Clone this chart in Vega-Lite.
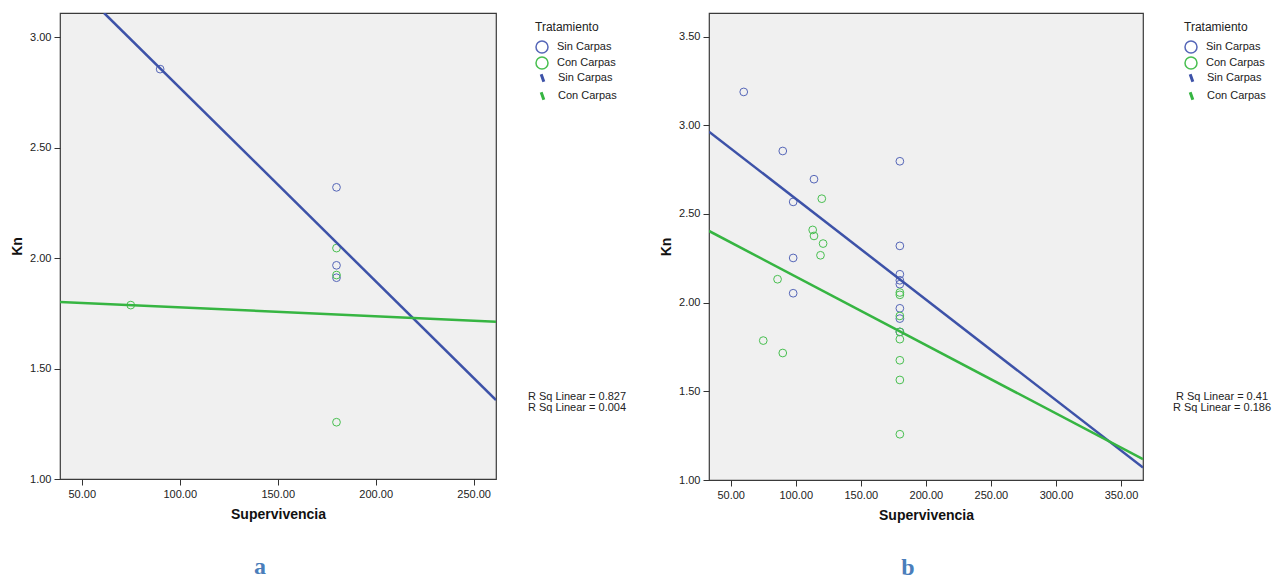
{
  "$schema": "https://vega.github.io/schema/vega-lite/v6.json",
  "background": "white",
  "padding": {"left": 9, "top": 12, "right": 5, "bottom": 0},
  "datasets": {
    "pa": [
      {"Supervivencia": 90, "Kn": 2.855, "Tratamiento": "Sin Carpas"},
      {"Supervivencia": 180, "Kn": 2.32, "Tratamiento": "Sin Carpas"},
      {"Supervivencia": 180, "Kn": 1.967, "Tratamiento": "Sin Carpas"},
      {"Supervivencia": 180, "Kn": 1.911, "Tratamiento": "Sin Carpas"},
      {"Supervivencia": 75, "Kn": 1.787, "Tratamiento": "Con Carpas"},
      {"Supervivencia": 180, "Kn": 2.045, "Tratamiento": "Con Carpas"},
      {"Supervivencia": 180, "Kn": 1.923, "Tratamiento": "Con Carpas"},
      {"Supervivencia": 180, "Kn": 1.257, "Tratamiento": "Con Carpas"}
    ],
    "la": [
      {"Supervivencia": 61.4, "Kn": 3.109, "Ajuste": "Sin Carpas", "rsq": "R Sq Linear = 0.827"},
      {"Supervivencia": 261.4, "Kn": 1.357, "Ajuste": "Sin Carpas", "rsq": "R Sq Linear = 0.827"},
      {"Supervivencia": 38.9, "Kn": 1.801, "Ajuste": "Con Carpas", "rsq": "R Sq Linear = 0.004"},
      {"Supervivencia": 261.4, "Kn": 1.712, "Ajuste": "Con Carpas", "rsq": "R Sq Linear = 0.004"}
    ],
    "pb": [
      {"Supervivencia": 60, "Kn": 3.188, "Tratamiento": "Sin Carpas"},
      {"Supervivencia": 90, "Kn": 2.855, "Tratamiento": "Sin Carpas"},
      {"Supervivencia": 114, "Kn": 2.696, "Tratamiento": "Sin Carpas"},
      {"Supervivencia": 98, "Kn": 2.568, "Tratamiento": "Sin Carpas"},
      {"Supervivencia": 98, "Kn": 2.252, "Tratamiento": "Sin Carpas"},
      {"Supervivencia": 98, "Kn": 2.053, "Tratamiento": "Sin Carpas"},
      {"Supervivencia": 180, "Kn": 2.797, "Tratamiento": "Sin Carpas"},
      {"Supervivencia": 180, "Kn": 2.32, "Tratamiento": "Sin Carpas"},
      {"Supervivencia": 180, "Kn": 2.16, "Tratamiento": "Sin Carpas"},
      {"Supervivencia": 180, "Kn": 2.126, "Tratamiento": "Sin Carpas"},
      {"Supervivencia": 180, "Kn": 2.104, "Tratamiento": "Sin Carpas"},
      {"Supervivencia": 180, "Kn": 1.968, "Tratamiento": "Sin Carpas"},
      {"Supervivencia": 180, "Kn": 1.91, "Tratamiento": "Sin Carpas"},
      {"Supervivencia": 180, "Kn": 1.835, "Tratamiento": "Sin Carpas"},
      {"Supervivencia": 120, "Kn": 2.586, "Tratamiento": "Con Carpas"},
      {"Supervivencia": 113, "Kn": 2.41, "Tratamiento": "Con Carpas"},
      {"Supervivencia": 114, "Kn": 2.376, "Tratamiento": "Con Carpas"},
      {"Supervivencia": 121, "Kn": 2.333, "Tratamiento": "Con Carpas"},
      {"Supervivencia": 119, "Kn": 2.267, "Tratamiento": "Con Carpas"},
      {"Supervivencia": 86, "Kn": 2.132, "Tratamiento": "Con Carpas"},
      {"Supervivencia": 75, "Kn": 1.786, "Tratamiento": "Con Carpas"},
      {"Supervivencia": 90, "Kn": 1.716, "Tratamiento": "Con Carpas"},
      {"Supervivencia": 180, "Kn": 2.057, "Tratamiento": "Con Carpas"},
      {"Supervivencia": 180, "Kn": 2.044, "Tratamiento": "Con Carpas"},
      {"Supervivencia": 180, "Kn": 1.925, "Tratamiento": "Con Carpas"},
      {"Supervivencia": 180, "Kn": 1.835, "Tratamiento": "Con Carpas"},
      {"Supervivencia": 180, "Kn": 1.794, "Tratamiento": "Con Carpas"},
      {"Supervivencia": 180, "Kn": 1.675, "Tratamiento": "Con Carpas"},
      {"Supervivencia": 180, "Kn": 1.564, "Tratamiento": "Con Carpas"},
      {"Supervivencia": 180, "Kn": 1.258, "Tratamiento": "Con Carpas"}
    ],
    "lb": [
      {"Supervivencia": 33.3, "Kn": 2.964, "Ajuste": "Sin Carpas", "rsq": "R Sq Linear = 0.41"},
      {"Supervivencia": 366.9, "Kn": 1.07, "Ajuste": "Sin Carpas", "rsq": "R Sq Linear = 0.41"},
      {"Supervivencia": 33.3, "Kn": 2.404, "Ajuste": "Con Carpas", "rsq": "R Sq Linear = 0.186"},
      {"Supervivencia": 366.9, "Kn": 1.117, "Ajuste": "Con Carpas", "rsq": "R Sq Linear = 0.186"}
    ]
  },
  "hconcat": [
    {
      "width": 436,
      "height": 466,
      "title": {"text": "a", "orient": "bottom", "anchor": "middle", "dx": -18, "offset": 34, "font": "Liberation Serif", "fontSize": 24, "fontWeight": "bold", "color": "#4a7ebb"},
      "layer": [
        {
          "data": {"name": "pa"},
          "mark": {"type": "point", "shape": "circle", "filled": false, "size": 60, "strokeWidth": 1, "opacity": 1},
          "encoding": {
            "x": {"field": "Supervivencia", "type": "quantitative", "scale": {"domain": [38.9, 261.4], "nice": false, "zero": false}, "axis": {"values": [50, 100, 150, 200, 250], "format": ".2f", "title": "Supervivencia"}},
            "y": {"field": "Kn", "type": "quantitative", "scale": {"domain": [1.0, 3.109], "nice": false, "zero": false}, "axis": {"values": [1, 1.5, 2, 2.5, 3], "format": ".2f", "title": "Kn"}},
            "color": {"field": "Tratamiento", "type": "nominal", "scale": {"domain": ["Sin Carpas", "Con Carpas"], "range": ["#5566b8", "#48bf50"]},
              "legend": {"title": "Tratamiento", "orient": "none", "legendX": 475, "legendY": 9, "symbolType": "circle", "symbolSize": 144, "symbolStrokeWidth": 1.5, "rowPadding": -3, "labelOffset": 8, "titlePadding": 6}}
          }
        },
        {
          "data": {"name": "la"},
          "mark": {"type": "line", "strokeWidth": 2.5, "clip": true},
          "encoding": {
            "x": {"field": "Supervivencia", "type": "quantitative"},
            "y": {"field": "Kn", "type": "quantitative"},
            "stroke": {"field": "Ajuste", "type": "nominal", "sort": ["Sin Carpas", "Con Carpas"], "scale": {"range": ["#3d52a8", "#36b542"]},
              "legend": {"title": null, "orient": "none", "legendX": 475, "legendY": 57.5, "symbolType": "M-0.22,-0.62L0.22,0.62", "symbolSize": 144, "symbolStrokeWidth": 3, "rowPadding": -4, "labelOffset": 8}},
            "opacity": {"field": "rsq", "type": "ordinal", "scale": {"domain": ["R Sq Linear = 0.827", "R Sq Linear = 0.004"], "range": [1, 1]},
              "legend": {"title": null, "orient": "none", "legendX": 506, "legendY": 378, "symbolSize": 0, "symbolStrokeWidth": 0, "labelAlign": "center", "labelOffset": 0, "rowPadding": -2}}
          }
        }
      ]
    },
    {
      "width": 434,
      "height": 467,
      "title": {"text": "b", "orient": "bottom", "anchor": "middle", "dx": -18, "offset": 34, "font": "Liberation Serif", "fontSize": 24, "fontWeight": "bold", "color": "#4a7ebb"},
      "layer": [
        {
          "data": {"name": "pb"},
          "mark": {"type": "point", "shape": "circle", "filled": false, "size": 60, "strokeWidth": 1, "opacity": 1},
          "encoding": {
            "x": {"field": "Supervivencia", "type": "quantitative", "scale": {"domain": [33.3, 366.9], "nice": false, "zero": false}, "axis": {"values": [50, 100, 150, 200, 250, 300, 350], "format": ".2f", "title": "Supervivencia"}},
            "y": {"field": "Kn", "type": "quantitative", "scale": {"domain": [1.0, 3.633], "nice": false, "zero": false}, "axis": {"values": [1, 1.5, 2, 2.5, 3, 3.5], "format": ".2f", "title": "Kn"}},
            "color": {"field": "Tratamiento", "type": "nominal", "scale": {"domain": ["Sin Carpas", "Con Carpas"], "range": ["#5566b8", "#48bf50"]},
              "legend": {"title": "Tratamiento", "orient": "none", "legendX": 475, "legendY": 9, "symbolType": "circle", "symbolSize": 144, "symbolStrokeWidth": 1.5, "rowPadding": -3, "labelOffset": 8, "titlePadding": 6}}
          }
        },
        {
          "data": {"name": "lb"},
          "mark": {"type": "line", "strokeWidth": 2.5, "clip": true},
          "encoding": {
            "x": {"field": "Supervivencia", "type": "quantitative"},
            "y": {"field": "Kn", "type": "quantitative"},
            "stroke": {"field": "Ajuste", "type": "nominal", "sort": ["Sin Carpas", "Con Carpas"], "scale": {"range": ["#3d52a8", "#36b542"]},
              "legend": {"title": null, "orient": "none", "legendX": 475, "legendY": 57.5, "symbolType": "M-0.22,-0.62L0.22,0.62", "symbolSize": 144, "symbolStrokeWidth": 3, "rowPadding": -4, "labelOffset": 8}},
            "opacity": {"field": "rsq", "type": "ordinal", "scale": {"domain": ["R Sq Linear = 0.41", "R Sq Linear = 0.186"], "range": [1, 1]},
              "legend": {"title": null, "orient": "none", "legendX": 502, "legendY": 378, "symbolSize": 0, "symbolStrokeWidth": 0, "labelAlign": "center", "labelOffset": 0, "rowPadding": -2}}
          }
        }
      ]
    }
  ],
  "spacing": 213,
  "bounds": "flush",
  "resolve": {
    "scale": {"color": "independent", "stroke": "independent", "opacity": "independent"},
    "legend": {"color": "independent", "stroke": "independent", "opacity": "independent"}
  },
  "config": {
    "font": "Liberation Sans",
    "view": {"fill": "#f0f0f0", "stroke": "#3a3a3a", "strokeWidth": 1.2},
    "axis": {"labelFont": "Liberation Sans", "labelFontSize": 11, "labelColor": "#222222", "titleFont": "Liberation Sans", "titleFontSize": 14, "titleFontWeight": "bold", "titleColor": "#111111", "tickColor": "#333333", "tickSize": 6, "domain": false, "grid": false, "labelPadding": 3, "labelFlush": false},
    "axisY": {"titlePadding": 5},
    "axisX": {"titlePadding": 8},
    "legend": {"labelFont": "Liberation Sans", "labelFontSize": 11, "labelColor": "#222222", "titleFont": "Liberation Sans", "titleFontSize": 12, "titleFontWeight": "normal", "titleColor": "#222222", "padding": 0}
  }
}
